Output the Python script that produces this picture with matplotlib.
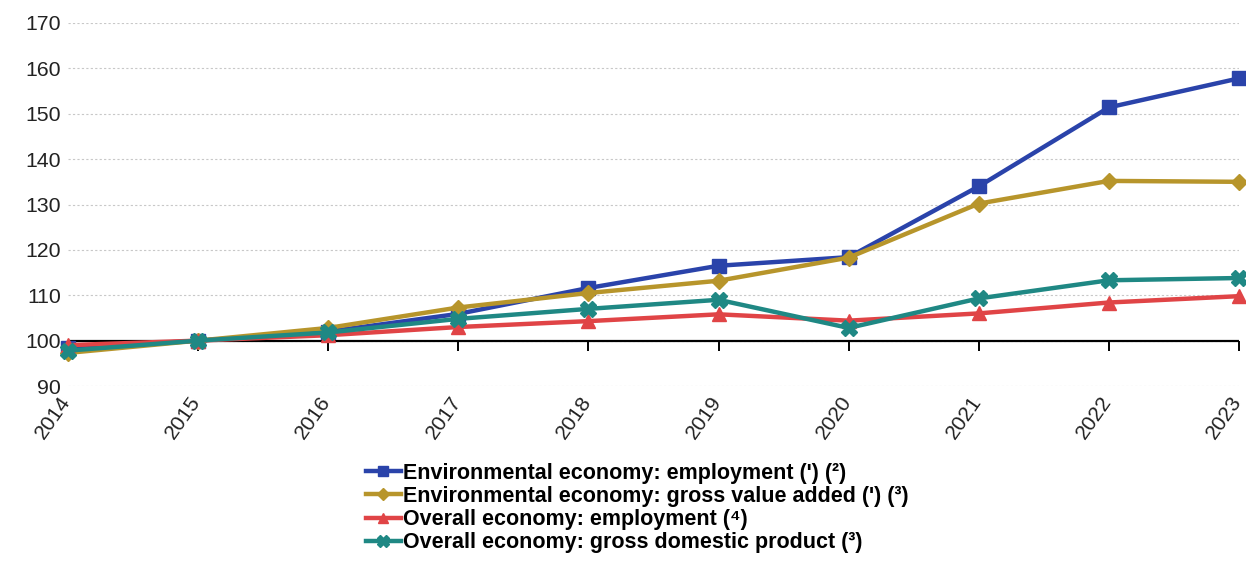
import matplotlib.pyplot as plt
from matplotlib.transforms import ScaledTranslation

plt.rcParams['font.family'] = ['Liberation Sans', 'DejaVu Sans']

years = [2014, 2015, 2016, 2017, 2018, 2019, 2020, 2021, 2022, 2023]

env_employment = [98.3, 100, 102.0, 105.9, 111.6, 116.5, 118.4, 134.0, 151.4, 157.8]
env_gva = [97.3, 100, 102.8, 107.3, 110.5, 113.2, 118.3, 130.2, 135.2, 135.0]
overall_employment = [99.0, 100, 101.2, 103.0, 104.3, 105.8, 104.4, 106.0, 108.4, 109.8]
overall_gdp = [97.8, 100, 101.8, 104.8, 107.0, 109.0, 102.8, 109.3, 113.3, 113.8]

labels = [
    "Environmental economy: employment (') (²)",
    "Environmental economy: gross value added (') (³)",
    "Overall economy: employment (⁴)",
    "Overall economy: gross domestic product (³)",
]

series = [
    (env_employment, "#2a43aa", "s", 10),
    (env_gva, "#b7952b", "D", 8.5),
    (overall_employment, "#e04446", "^", 10),
    (overall_gdp, "#1f8884", "X", 11),
]

fig = plt.figure(figsize=(12.46, 5.65), dpi=100)
ax = fig.add_axes([0.0546, 0.3168, 0.9398, 0.6425])

handles = []
for (vals, color, marker, ms), label in zip(series, labels):
    h, = ax.plot(years, vals, color=color, lw=3.2, marker=marker, ms=ms,
                 label=label, clip_on=False, zorder=3)
    handles.append(h)

ax.set_xlim(2014, 2023)
ax.set_ylim(90, 170)
ax.set_yticks(range(90, 171, 10))
ax.set_xticks(years)

for s in ax.spines.values():
    s.set_visible(False)

ax.yaxis.grid(True, linestyle=(0, (2, 2)), color="#c8c8c8", lw=0.8)
ax.set_axisbelow(True)
ax.tick_params(axis="y", length=0, labelsize=15.3, pad=5, labelcolor="#222222")
ax.tick_params(axis="x", length=0, labelsize=15.3, pad=5, labelcolor="#222222")
shift = ScaledTranslation(-9 / 100, 0, fig.dpi_scale_trans)
for lbl in ax.get_xticklabels():
    lbl.set_rotation(55)
    lbl.set_ha("right")
    lbl.set_va("top")
    lbl.set_rotation_mode("anchor")
    lbl.set_transform(lbl.get_transform() + shift)

# axis line crossing at 100
ax.axhline(100, color="black", lw=1.6, zorder=2)
sec = ax.secondary_xaxis((100 - 90) / (170 - 90))
sec.set_xticks(years)
sec.tick_params(axis="x", direction="out", length=7, width=1.4, labelbottom=False,
                labeltop=False, color="black")
sec.spines["bottom"].set_visible(False)

fig.legend(handles=handles, loc="upper left", bbox_to_anchor=(0.287, 0.196),
           frameon=False, prop={"weight": "bold", "size": 15.5},
           handlelength=1.6, handletextpad=0.1, labelspacing=0.1,
           borderaxespad=0, markerscale=0.75)

fig.savefig("out.png", dpi=100)
